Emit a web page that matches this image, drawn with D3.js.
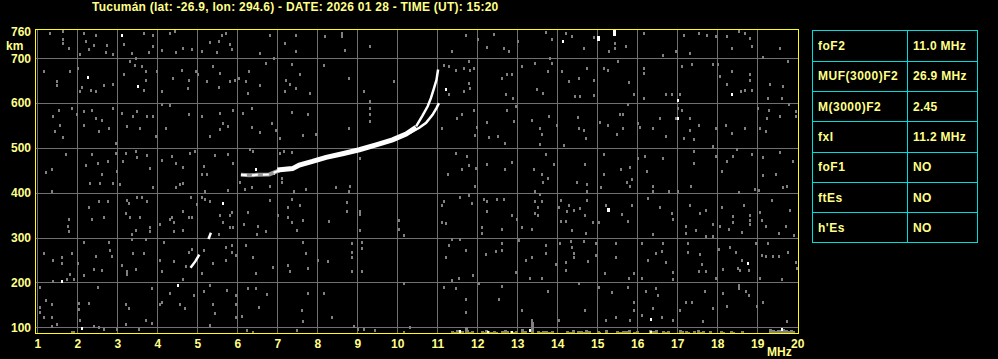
<!DOCTYPE html>
<html>
<head>
<meta charset="utf-8">
<script src="https://cdn.jsdelivr.net/npm/d3@7"></script>
<style>
  html, body { margin: 0; padding: 0; background: #000; }
  svg { display: block; }
  text { font-family: "Liberation Sans", Arial, sans-serif; font-weight: bold; }
</style>
</head>
<body>
<svg id="chart" width="998" height="359"></svg>
<script>
// ---- data ----
const title = "Tucumán (lat: -26.9, lon: 294.6) - DATE: 2026 01 28 - TIME (UT): 15:20";
const freqTicks = [1, 2, 3, 4, 5, 6, 7, 8, 9, 10, 11, 12, 13, 14, 15, 16, 17, 18, 19, 20];
const heightTicks = [100, 200, 300, 400, 500, 600, 700];
const topHeight = 760;

const tableLabels = ["foF2", "MUF(3000)F2", "M(3000)F2", "fxI", "foF1", "ftEs", "h'Es"];
const tableValues = ["11.0 MHz", "26.9 MHz", "2.45", "11.2 MHz", "NO", "NO", "NO"];

// F2 ordinary trace (MHz, km)
const oTraceMain = [[7.0, 451], [7.38, 454], [7.55, 462], [7.88, 470], [8.22, 479], [8.63, 487],
  [9.05, 496], [9.47, 507], [9.88, 518], [10.22, 531], [10.47, 546]];
const oTraceCusp = [[10.47, 548], [10.63, 572], [10.76, 593], [10.84, 611], [10.92, 634], [10.98, 652], [11.02, 675]];
const oTraceStart = [[6.09, 440], [6.3, 439], [6.5, 440], [6.8, 441], [7.05, 450]];
// extraordinary trace branch
const xTrace = [[10.3, 533], [10.55, 545], [10.72, 556], [10.88, 574], [10.98, 589], [11.04, 600]];
// low trace segments
const lowTraceA = [[4.83, 233], [4.95, 247], [5.05, 262]];
const lowTraceB = [[5.28, 297], [5.34, 311]];

// bright specks
const whiteDots = [[2.24, 658], [3.09, 753], [3.48, 638], [5.63, 378], [1.59, 204], [4.49, 194], [2.09, 99],
  [14.13, 739], [18.34, 621], [16.99, 608], [16.99, 567], [15.28, 362], [18.74, 244], [11.19, 631],
  [6.45, 452], [6.9, 444], [11.55, 92], [12.25, 90], [12.85, 90], [13.3, 93], [16.33, 118], [16.33, 90], [19.6, 97]];
const whiteBars = [[15.41, 749, 765], [15.03, 738, 750], [15.28, 358, 366]];

// gray noise (MHz, km)
const noise = [
  [1.28,756],[1.63,762],[1.63,744],[1.63,734],[1.76,722],[2.13,756],[2.2,739],[2.45,753],[2.4,730],[2.28,721],
  [2.05,710],[2.72,729],[2.7,714],[2.87,710],[3.15,732],[3.35,712],[3.43,701],[3.65,756],[3.88,753],[3.87,727],
  [3.76,714],[4.09,719],[4.3,756],[4.42,762],[4.45,714],[4.63,723],[4.84,721],[5.09,716],[5.28,736],[5.51,739],
  [5.59,751],[5.7,756],[5.78,732],[5.84,721],[5.47,714],[6.53,712],[6.78,753],[7.18,734],[7.43,753],[7.45,717],
  [8.18,749],[8.59,756],[8.59,749],[8.68,719],[9.3,727],
  [1.13,671],[1.78,672],[1.48,649],[1.48,640],[2.0,678],[2.03,626],[2.08,637],[2.32,630],[2.43,626],[2.63,640],
  [2.88,643],[3.15,664],[3.3,693],[3.42,686],[3.59,682],[3.68,671],[3.63,630],[3.68,652],[3.97,671],[4.09,626],
  [4.37,656],[4.59,675],[4.76,652],[4.95,671],[4.73,634],[4.98,664],[5.22,649],[5.38,682],[5.55,667],[5.51,637],
  [5.78,649],[5.92,652],[6.03,656],[6.2,649],[6.28,671],[6.53,640],[6.23,623],[6.68,690],[6.9,701],[7.2,652],
  [7.34,687],[7.55,665],[7.3,643],[7.45,634],[7.8,623],[7.17,626],[8.13,684],[8.78,656],[9.13,626],[9.88,649],
  [1.51,585],[1.38,571],[1.55,552],[1.43,537],[1.62,524],[1.84,589],[1.97,576],[2.13,582],[2.34,585],[2.43,567],
  [2.13,552],[2.51,537],[2.59,563],[2.76,545],[2.88,589],[2.93,511],[3.09,578],[3.22,548],[3.47,582],[3.38,571],
  [3.55,545],[3.72,571],[3.93,526],[3.88,571],[4.09,597],[4.3,595],[4.2,545],[4.76,576],[5.09,571],[5.3,526],
  [5.55,578],[5.63,556],[5.53,543],[5.73,550],[5.88,585],[6.12,578],[6.34,589],[6.34,546],[6.53,536],[6.84,556],
  [6.95,539],[7.05,522],[7.34,581],[7.63,528],[7.95,531],[7.73,576],[8.77,545],[9.3,560],[9.3,575],[9.3,590],[9.3,605],
  [1.18,446],[1.34,452],[1.68,487],[2.18,463],[2.34,487],[2.48,467],[2.59,441],[2.73,470],[2.93,489],[2.97,448],
  [3.12,470],[3.2,489],[3.45,494],[3.47,479],[3.72,485],[3.8,455],[4.09,474],[4.34,483],[4.45,467],[4.63,457],
  [4.8,489],[4.93,493],[5.09,441],[5.13,459],[5.22,441],[5.43,485],[5.73,487],[5.88,467],[6.3,497],[6.38,494],
  [7.13,494],[7.03,489],[7.34,491],[7.09,433],[9.05,478],
  [11.7,751],[12.0,742],[12.38,754],[12.23,725],[12.78,716],[12.65,722],[11.34,716],[13.0,738],[13.68,759],[13.84,742],
  [14.2,757],[14.34,749],[14.63,723],[14.88,747],[15.28,717],[15.7,727],[16.13,757],[16.63,708],[16.95,717],[17.13,753],
  [17.28,712],[17.51,757],[17.72,753],[17.93,749],[18.22,749],[18.34,722],[18.51,762],[18.68,757],[18.8,745],[18.84,727],
  [19.13,702],[19.55,722],[15.41,735],[15.41,722],
  [11.13,686],[11.28,682],[11.45,675],[11.63,678],[11.78,693],[11.8,675],[11.88,678],[11.76,645],[11.8,634],[11.63,626],
  [11.28,620],[12.59,656],[12.73,664],[12.84,664],[12.7,620],[12.86,612],[13.09,682],[13.43,690],[13.47,632],[13.62,623],
  [13.8,701],[13.84,690],[13.73,671],[14.09,671],[14.26,649],[14.53,656],[14.43,615],[14.55,615],[14.72,678],[14.88,652],
  [14.88,619],[15.13,678],[15.23,673],[15.49,693],[15.78,647],[15.9,620],[16.13,678],[16.13,667],[16.15,612],[16.68,620],
  [16.84,620],[17.09,682],[17.05,620],[17.34,687],[17.88,687],[18.0,687],[18.03,660],[18.23,643],[18.34,671],[18.57,626],
  [18.68,630],[18.8,665],[18.8,652],[18.84,630],[19.3,643],[19.63,638],[19.74,693],[19.23,612],[19.6,611],[16.99,590],
  [11.09,545],[11.47,567],[11.59,576],[11.88,585],[11.97,546],[11.93,528],[12.23,558],[12.28,524],[12.48,526],[12.68,511],
  [12.73,585],[12.88,561],[12.93,593],[13.34,563],[13.55,545],[13.59,531],[13.53,509],[13.78,571],[13.97,552],[14.15,507],
  [14.48,568],[14.51,545],[14.63,541],[14.7,522],[15.05,558],[15.23,552],[15.47,531],[15.63,545],[15.55,576],[15.63,576],
  [15.73,597],[15.98,556],[16.03,546],[16.38,545],[16.53,567],[16.7,526],[16.95,567],[17.09,585],[17.28,567],[17.3,541],
  [17.13,522],[17.38,519],[17.51,551],[17.93,545],[17.88,504],[18.2,552],[18.34,533],[18.68,545],[18.98,589],[19.05,545],
  [19.18,537],[19.22,567],[19.26,585],[19.53,571],[19.76,597],[19.95,582],[19.95,571],
  [11.45,489],[11.72,481],[11.76,463],[11.59,452],[11.23,442],[11.95,455],[12.22,464],[12.84,469],[12.68,452],[13.38,452],
  [13.59,441],[13.7,487],[13.88,464],[13.73,433],[14.68,464],[15.13,487],[15.13,442],[15.57,452],[15.8,457],[15.84,430],
  [15.98,478],[16.18,481],[16.22,448],[16.63,478],[17.38,493],[17.38,467],[17.93,483],[18.23,470],[18.38,481],[18.47,498],
  [18.84,487],[19.13,479],[19.53,491],[19.88,470],[19.43,441],[19.13,439],[18.09,448],
  [1.34,405],[2.3,421],[2.55,421],[2.88,421],[3.03,420],[3.88,413],[4.45,414],[4.55,419],[4.63,421],[5.18,405],
  [5.73,407],[6.05,424],[6.18,409],[6.34,413],[6.78,416],[7.09,424],[7.38,405],[7.68,409],[8.43,413],[8.76,405],[8.8,416],
  [2.26,368],[2.53,381],[2.73,381],[2.34,342],[2.63,346],[1.77,342],[1.73,327],[1.77,315],[3.22,384],[3.26,377],
  [3.2,355],[3.28,346],[3.47,390],[3.59,390],[3.73,381],[3.55,346],[3.8,324],[3.78,315],[3.43,316],[3.34,307],
  [4.03,330],[4.3,342],[4.38,335],[4.34,346],[4.63,359],[4.76,346],[4.84,346],[4.82,390],[5.09,390],[5.18,387],
  [5.3,381],[4.38,315],[4.63,318],[4.97,374],[5.53,350],[5.63,335],[5.78,350],[5.84,357],[5.8,324],[5.88,324],
  [5.51,309],[6.13,331],[6.23,357],[6.48,327],[6.47,309],[6.68,315],[6.8,383],[6.98,350],[7.23,368],[7.23,346],
  [7.34,335],[7.47,316],[7.63,340],[7.34,387],[7.55,372],[8.28,337],[8.72,379],[8.72,359],[9.03,359],[9.03,316],
  [10.03,340],[10.03,320],[10.13,305],[9.03,352],
  [1.13,266],[1.38,251],[1.59,256],[1.59,244],[1.84,266],[1.98,244],[2.13,290],[2.45,259],[2.78,290],[2.8,272],
  [2.84,259],[2.38,229],[2.59,227],[2.13,216],[1.8,218],[1.72,207],[1.88,207],[1.38,204],[3.09,238],[3.22,226],
  [3.38,266],[3.63,266],[3.45,231],[3.22,218],[3.34,296],[3.68,296],[4.13,290],[4.09,226],[4.05,251],[4.38,248],
  [4.62,207],[4.7,236],[4.84,275],[4.77,267],[5.13,272],[5.09,221],[5.38,244],[5.7,251],[5.7,279],[5.84,283],
  [5.84,267],[5.95,262],[6.2,283],[6.38,256],[6.43,221],[6.88,235],[7.23,239],[7.28,226],[7.63,290],[7.7,266],
  [7.73,233],[7.98,250],[8.23,248],[8.84,287],[8.84,269],[8.84,257],[9.09,290],[9.09,276],[8.84,226],[9.09,226],[10.13,198],
  [1.05,189],[1.2,162],[1.34,153],[1.05,146],[1.05,135],[1.13,124],[1.34,124],[1.34,103],[1.48,107],[1.84,90],
  [1.88,90],[2.01,155],[2.01,140],[2.26,155],[2.48,189],[2.05,116],[2.38,103],[2.51,101],[2.63,96],[2.97,96],
  [3.2,152],[3.26,142],[3.18,107],[3.51,96],[3.68,116],[3.84,110],[3.84,187],[4.03,152],[4.09,157],[4.3,177],
  [4.55,152],[4.66,142],[4.88,172],[5.13,181],[5.28,194],[5.38,152],[5.43,131],[5.3,105],[5.72,184],[5.95,172],
  [5.95,153],[6.09,125],[5.95,122],[6.23,187],[6.43,187],[6.51,146],[6.38,90],[6.72,175],[7.59,138],[7.63,113],
  [7.73,177],[8.13,177],[8.34,122],[8.88,104],[9.0,97],[9.13,97],[10.3,101],[10.13,90],[9.43,94],[7.47,94],[6.22,94],
  [11.93,416],[13.43,405],[13.54,398],[13.61,424],[14.46,424],[14.71,420],[14.71,405],[15.07,414],[15.72,424],[15.8,416],
  [16.36,416],[16.36,405],[16.76,404],[16.98,404],[17.33,416],[18.52,401],[18.93,409],[19.01,407],[19.62,413],[19.72,416],
  [11.09,372],[11.13,381],[11.53,390],[11.78,394],[11.84,377],[11.09,335],[11.2,333],[12.22,381],[12.23,359],[12.47,386],
  [12.65,386],[12.13,386],[12.84,351],[12.97,341],[13.09,324],[12.09,324],[12.09,311],[12.59,319],[13.43,381],[13.6,381],
  [13.48,368],[13.42,355],[13.5,350],[13.35,319],[14.06,383],[14.03,368],[14.27,372],[14.22,359],[14.4,361],[14.55,367],
  [14.72,383],[14.68,350],[14.06,337],[14.2,337],[14.35,316],[14.7,310],[14.87,335],[15.01,335],[15.18,372],[15.59,352],
  [15.73,337],[15.84,372],[16.23,389],[16.38,307],[16.53,368],[16.84,355],[16.88,342],[17.3,372],[17.55,355],[17.7,361],
  [17.2,326],[17.2,311],[17.45,316],[17.7,304],[17.88,330],[17.88,304],[18.03,325],[18.09,368],[18.26,319],[18.38,349],
  [18.38,335],[18.59,313],[18.63,372],[18.78,350],[18.78,340],[18.78,331],[19.05,357],[19.09,340],[19.18,327],[19.34,383],
  [19.51,311],[19.68,327],[19.78,361],[19.9,305],
  [11.34,298],[11.55,298],[11.26,283],[11.7,273],[11.2,257],[11.51,209],[11.34,205],[11.87,216],[12.2,264],[12.45,270],
  [12.59,287],[12.59,273],[12.93,224],[13.03,295],[13.2,250],[13.34,257],[13.3,209],[13.59,211],[13.7,283],[13.7,266],
  [13.95,241],[14.05,288],[14.32,293],[14.34,279],[14.38,266],[14.19,246],[14.2,227],[14.4,256],[14.63,293],[14.73,248],
  [14.95,287],[14.95,262],[15.17,221],[15.45,256],[15.45,287],[15.78,211],[15.88,221],[16.09,209],[16.09,287],[16.23,251],
  [16.45,266],[16.63,287],[16.59,270],[16.68,246],[16.88,224],[16.88,207],[17.23,287],[17.23,269],[17.55,264],[17.59,242],
  [17.51,226],[17.7,226],[17.95,210],[18.01,274],[18.13,229],[18.3,278],[18.45,267],[18.49,233],[18.59,250],[18.53,228],
  [18.76,227],[18.95,287],[19.03,209],[19.09,262],[19.23,289],[19.2,258],[19.38,258],[19.51,260],[19.59,207],[19.73,267],
  [19.95,245],[19.97,233],
  [11.13,190],[11.45,187],[11.7,164],[11.7,135],[12.03,198],[12.59,192],[12.53,164],[13.09,139],[13.34,116],[13.73,182],
  [14.03,117],[14.53,199],[14.68,139],[15.03,190],[15.2,116],[15.34,179],[15.45,122],[15.73,190],[15.8,117],[15.9,157],
  [15.9,139],[16.09,128],[16.2,182],[16.38,144],[16.45,187],[16.48,172],[16.59,122],[16.88,116],[17.05,139],[17.2,157],
  [17.34,157],[17.63,113],[17.67,182],[17.88,144],[18.12,177],[18.23,148],[18.51,195],[18.51,187],[18.7,182],[18.76,172],
  [18.97,147],[19.13,157],[19.72,113]
];

// dense bottom band (MHz, top km)
const bottomBand = [[11.35,91],[11.4,90],[11.47,93],[11.6,92],[11.68,100],[11.72,95],[11.8,90],[11.85,92],[12.1,91],
  [12.15,90],[12.2,93],[12.25,91],[12.32,90],[12.38,92],[12.44,90],[12.6,91],[12.66,93],[12.72,91],[12.82,92],[12.88,90],
  [12.94,91],[13.09,96],[13.18,92],[13.34,112],[13.5,91],[13.56,90],[13.62,92],[13.7,91],[13.78,90],[13.84,92],[14.22,91],
  [14.3,90],[14.36,93],[14.5,92],[14.56,91],[14.62,90],[14.7,94],[14.76,91],[14.98,92],[15.03,90],[15.2,93],[15.47,91],
  [15.55,90],[15.62,92],[15.7,91],[15.78,93],[15.9,90],[15.96,92],[16.3,94],[16.38,91],[16.45,93],[16.62,91],[16.68,90],
  [16.75,92],[17.05,93],[17.1,91],[17.2,92],[17.25,90],[17.4,91],[17.48,93],[17.55,90],[17.62,91],[17.8,92],[18.08,91],
  [18.12,90],[18.32,92],[18.37,90],[18.6,91],[19.3,96],[19.36,94],[19.42,92],[19.5,95],[19.56,93],[19.62,97],[19.68,94],
  [19.75,92],[19.82,95],[19.88,91]];

// ---- drawing ----
const svg = d3.select("#chart");
const yellow = "#ffff00";
const textYellow = "#ffff88";
const gridGray = "#707070";
const noiseGray = "#808080";
const cyan = "#00dcdc";

const x = d3.scaleLinear().domain([1, 20]).range([37.3, 797.3]);
const y = d3.scaleLinear().domain([100, 700]).range([327.3, 58.3]);

const frameLeft = 35.5, frameRight = 798.5, frameTop = 29.5, frameBottom = 333.5;

svg.append("text")
  .attr("x", 92).attr("y", 11)
  .attr("fill", textYellow).attr("font-size", 12)
  .attr("letter-spacing", 0.25)
  .text(title);

const plot = svg.append("g").attr("shape-rendering", "crispEdges");

// grid
plot.selectAll(".vgrid").data(freqTicks.slice(0, -1)).enter()
  .append("line")
  .attr("x1", d => Math.round(x(d)) + 0.5).attr("x2", d => Math.round(x(d)) + 0.5)
  .attr("y1", frameTop).attr("y2", frameBottom)
  .attr("stroke", gridGray);

plot.selectAll(".hgrid").data(heightTicks).enter()
  .append("line")
  .attr("y1", d => Math.round(y(d)) + 0.5).attr("y2", d => Math.round(y(d)) + 0.5)
  .attr("x1", frameLeft).attr("x2", frameRight)
  .attr("stroke", gridGray);

// noise
plot.selectAll(".noise").data(noise).enter()
  .append("rect")
  .attr("x", d => Math.round(x(d[0])))
  .attr("y", d => Math.round(y(d[1])) - 1)
  .attr("width", 2).attr("height", 3)
  .attr("fill", noiseGray);

plot.selectAll(".band").data(bottomBand).enter()
  .append("rect")
  .attr("x", d => Math.round(x(d[0])))
  .attr("y", d => Math.round(y(d[1])))
  .attr("width", 3)
  .attr("height", d => frameBottom - Math.round(y(d[1])))
  .attr("fill", noiseGray);

// traces
const line = d3.line().x(d => x(d[0])).y(d => y(d[1]));
const traces = svg.append("g").attr("fill", "none").attr("stroke-linecap", "butt");

traces.append("path").datum(oTraceStart).attr("d", line)
  .attr("stroke", "#9a9a9a").attr("stroke-width", 4);
traces.append("path").datum(oTraceStart).attr("d", line)
  .attr("stroke", "#fff").attr("stroke-width", 2).attr("stroke-dasharray", "6,5");
traces.append("path").datum(oTraceMain).attr("d", line)
  .attr("stroke", "#fff").attr("stroke-width", 5);
traces.append("path").datum(xTrace).attr("d", line)
  .attr("stroke", "#fff").attr("stroke-width", 2.5);
traces.append("path").datum(oTraceCusp).attr("d", line)
  .attr("stroke", "#fff").attr("stroke-width", 2.5);
traces.append("path").datum(lowTraceA).attr("d", line)
  .attr("stroke", "#fff").attr("stroke-width", 2.5);
traces.append("path").datum(lowTraceB).attr("d", line)
  .attr("stroke", "#fff").attr("stroke-width", 2.5);

plot.selectAll(".wdot").data(whiteDots).enter()
  .append("rect")
  .attr("x", d => Math.round(x(d[0])))
  .attr("y", d => Math.round(y(d[1])) - 1)
  .attr("width", 2).attr("height", 3)
  .attr("fill", "#fff");

plot.selectAll(".wbar").data(whiteBars).enter()
  .append("rect")
  .attr("x", d => Math.round(x(d[0])) - 1)
  .attr("y", d => Math.round(y(d[2])))
  .attr("width", 3)
  .attr("height", d => Math.round(y(d[1]) - y(d[2])))
  .attr("fill", "#fff");

// frame
svg.append("rect")
  .attr("x", frameLeft).attr("y", frameTop)
  .attr("width", frameRight - frameLeft).attr("height", frameBottom - frameTop)
  .attr("fill", "none").attr("stroke", yellow).attr("stroke-width", 1.3)
  .attr("shape-rendering", "crispEdges");

// axis labels
const labels = svg.append("g").attr("fill", textYellow).attr("font-size", 12);

labels.selectAll(".xl").data(freqTicks).enter()
  .append("text")
  .attr("x", d => x(d) + 0.5).attr("y", 348)
  .attr("text-anchor", "middle")
  .text(d => d);

labels.append("text").attr("x", 767).attr("y", 356).text("MHz");

labels.selectAll(".yl").data(heightTicks.concat([topHeight])).enter()
  .append("text")
  .attr("x", 31).attr("y", d => y(d) + 4.3)
  .attr("text-anchor", "end")
  .text(d => d);

labels.append("text").attr("x", 6).attr("y", 49.5).text("km");

// parameter table
const rows = d3.scaleBand().domain(tableLabels).range([30.5, 242.5]);
const table = svg.append("g");
const tx0 = 812.5, tx1 = 907.5, tx2 = 977.5;

table.append("rect")
  .attr("x", tx0).attr("y", 30.5)
  .attr("width", tx2 - tx0).attr("height", 212)
  .attr("fill", "none").attr("stroke", cyan).attr("shape-rendering", "crispEdges");
table.append("line")
  .attr("x1", tx1).attr("x2", tx1).attr("y1", 30.5).attr("y2", 242.5)
  .attr("stroke", cyan).attr("shape-rendering", "crispEdges");
table.selectAll(".rl").data(tableLabels.slice(1)).enter()
  .append("line")
  .attr("x1", tx0).attr("x2", tx2)
  .attr("y1", d => Math.round(rows(d)) + 0.5).attr("y2", d => Math.round(rows(d)) + 0.5)
  .attr("stroke", cyan).attr("shape-rendering", "crispEdges");

table.selectAll(".lab").data(tableLabels).enter()
  .append("text")
  .attr("x", 818).attr("y", d => rows(d) + rows.bandwidth() / 2 + 4.5)
  .attr("fill", textYellow).attr("font-size", 12)
  .attr("letter-spacing", 0.5)
  .text(d => d);

table.selectAll(".val").data(tableValues).enter()
  .append("text")
  .attr("x", 913).attr("y", (d, i) => rows(tableLabels[i]) + rows.bandwidth() / 2 + 4.5)
  .attr("fill", textYellow).attr("font-size", 12)
  .attr("letter-spacing", 0.3)
  .text(d => d);
</script>
</body>
</html>
